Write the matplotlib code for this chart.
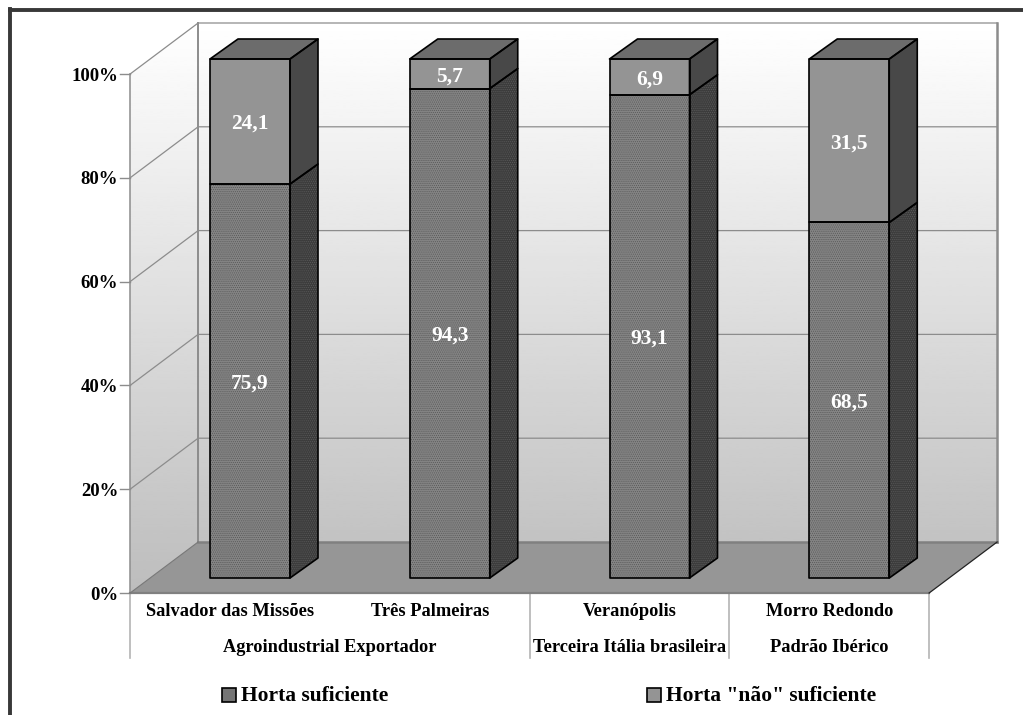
import numpy as np
import matplotlib
matplotlib.use("Agg")
import matplotlib.pyplot as plt
from matplotlib.patches import Polygon, Rectangle
from matplotlib.lines import Line2D

plt.rcParams['font.family'] = ['Liberation Serif', 'DejaVu Serif']
plt.rcParams['hatch.linewidth'] = 0.5

municipios = ["Salvador das Missões", "Três Palmeiras", "Veranópolis", "Morro Redondo"]
regioes = ["Agroindustrial Exportador", "Terceira Itália brasileira", "Padrão Ibérico"]
regiao_span = [(0, 1), (2, 2), (3, 3)]
suficiente = [75.9, 94.3, 93.1, 68.5]
nao_suficiente = [24.1, 5.7, 6.9, 31.5]
rotulos_suf = ["75,9", "94,3", "93,1", "68,5"]
rotulos_nao = ["24,1", "5,7", "6,9", "31,5"]
ticks = [0, 20, 40, 60, 80, 100]
series = ["Horta suficiente", 'Horta "não" suficiente']

W, H = 1023, 715
fig = plt.figure(figsize=(W / 100, H / 100), dpi=100, facecolor="white")
ax = fig.add_axes([0, 0, 1, 1])

# Category and percent scales; one category is 199.75 px, one percent 5.19 px
PX_X, PX_Y = 199.75, 5.19
ax.set_xlim((0 - 230) / PX_X, (W - 230) / PX_X)
ax.set_ylim((593 - H) / PX_Y, 593 / PX_Y)
ax.axis("off")

DX, DY = 68 / PX_X, 51 / PX_Y            # full depth of the chart box
BX, BY = 20 / PX_X, 15 / PX_Y            # front offset of the bars
CX, CY = 28 / PX_X, 20 / PX_Y            # depth of each bar
HALF = 40 / PX_X                         # half width of a bar
XL, XR = -0.5, 3.5                       # front edges of the floor

GRID = "#8c8c8c"

# Back and side walls share a vertical white-to-grey gradient
grad = np.linspace(0.74, 1.0, 256).reshape(-1, 1)
img = ax.imshow(grad, cmap="gray", vmin=0, vmax=1, aspect="auto", origin="lower",
                extent=[XL, XR + DX, 0, 100 + DY], zorder=1)
wall = Polygon([(XL, 0), (XL, 100), (XL + DX, 100 + DY), (XR + DX, 100 + DY),
                (XR + DX, DY), (XL + DX, DY)], closed=True, transform=ax.transData,
               fc="none", ec="none")
ax.add_patch(wall)
img.set_clip_path(wall)
ax.set_xlim((0 - 230) / PX_X, (W - 230) / PX_X)
ax.set_ylim((593 - H) / PX_Y, 593 / PX_Y)

# Grid lines across the left wall and along the back wall
for t in ticks[1:]:
    ax.plot([XL, XL + DX, XR + DX], [t, t + DY, t + DY], color=GRID, lw=0.9, zorder=2,
            solid_joinstyle="miter")
ax.plot([XL + DX, XL + DX], [DY, 100 + DY], color=GRID, lw=1.4, zorder=2)
ax.plot([XR + DX, XR + DX], [DY, 100 + DY], color=GRID, lw=1.8, zorder=2)
ax.plot([XL, XL], [0, 100], color=GRID, lw=1.1, zorder=2)

# Floor
ax.add_patch(Polygon([(XL, 0), (XR, 0), (XR + DX, DY), (XL + DX, DY)], closed=True,
                     fc="#969696", ec="none", zorder=3))
ax.plot([XL + DX, XR + DX], [DY, DY], color="#808080", lw=1.8, zorder=3)
ax.plot([XL, XR], [0, 0], color="#808080", lw=1.6, zorder=3)
ax.plot([XL, XL + DX], [0, DY], color="#777777", lw=0.8, zorder=3)
ax.plot([XR, XR + DX], [0, DY], color="#222222", lw=0.9, zorder=3)


def face(pts, color, textured=False, z=5):
    """Add one bar face, optionally with a fine dotted texture."""
    kw = dict(hatch="........", edgecolor="#5a5a5a") if textured else dict(edgecolor="none")
    ax.add_patch(Polygon(pts, closed=True, facecolor=color, lw=0, zorder=z, **kw))
    ax.add_patch(Polygon(pts, closed=True, fc="none", ec="black", lw=1.2, zorder=z + 0.5,
                         joinstyle="round"))


for i, (low, up) in enumerate(zip(suficiente, nao_suficiente)):
    x0, x1 = i + BX - HALF, i + BX + HALF
    y0, ym, y1 = BY, BY + low, BY + low + up
    # Lower segment: front and side
    face([(x1, y0), (x1 + CX, y0 + CY), (x1 + CX, ym + CY), (x1, ym)], "#3c3c3c", True)
    face([(x0, y0), (x1, y0), (x1, ym), (x0, ym)], "#848484", True)
    # Upper segment: side, front and lid
    face([(x1, ym), (x1 + CX, ym + CY), (x1 + CX, y1 + CY), (x1, y1)], "#484848")
    face([(x0, ym), (x1, ym), (x1, y1), (x0, y1)], "#949494")
    face([(x0, y1), (x1, y1), (x1 + CX, y1 + CY), (x0 + CX, y1 + CY)], "#6c6c6c")
    ax.text(i + BX, y0 + low / 2, rotulos_suf[i], color="white", fontsize=15.5, fontweight="bold",
            ha="center", va="center_baseline", zorder=8)
    ax.text(i + BX, ym + up / 2, rotulos_nao[i], color="white", fontsize=15.5, fontweight="bold",
            ha="center", va="center_baseline", zorder=8)

# Value axis labels and tick marks
for t in ticks:
    ax.plot([XL - 10 / PX_X, XL], [t, t], color=GRID, lw=1.0, zorder=2)
    ax.text(XL - 12 / PX_X, t - 2 / PX_Y, f"{t}%", fontsize=13.5, fontweight="bold",
            ha="right", va="center")

# Two-level category axis
SEP = -65 / PX_Y
for x in [XL, 1.5, 2.5, XR]:
    ax.plot([x, x], [0, SEP], color="#b4b4b4", lw=1.2, zorder=2)
for i, nome in enumerate(municipios):
    ax.text(i, -18 / PX_Y, nome, fontsize=13.2, fontweight="bold", ha="center", va="center")
for (a, b), nome in zip(regiao_span, regioes):
    ax.text((a + b) / 2, -54 / PX_Y, nome, fontsize=13.2, fontweight="bold", ha="center", va="center")

# Legend
for (px, colour, label) in [(222, "#747474", series[0]), (647, "#949494", series[1])]:
    fig.add_artist(Rectangle((px / W, 1 - 702 / H), 14 / W, 14 / H, transform=fig.transFigure,
                             fc=colour, ec="black", lw=1.2))
    fig.text((px + 19) / W, 1 - 696 / H, label, fontsize=15.5, fontweight="bold", ha="left", va="center")

# Outer frame: top and left edges only
fig.add_artist(Line2D([9.5 / W, 1], [1 - 10 / H, 1 - 10 / H], transform=fig.transFigure,
                      color="#383838", lw=2.8))
fig.add_artist(Line2D([9.5 / W, 9.5 / W], [1 - 9 / H, 0], transform=fig.transFigure,
                      color="#383838", lw=2.8))

fig.savefig("out.png", dpi=100)
